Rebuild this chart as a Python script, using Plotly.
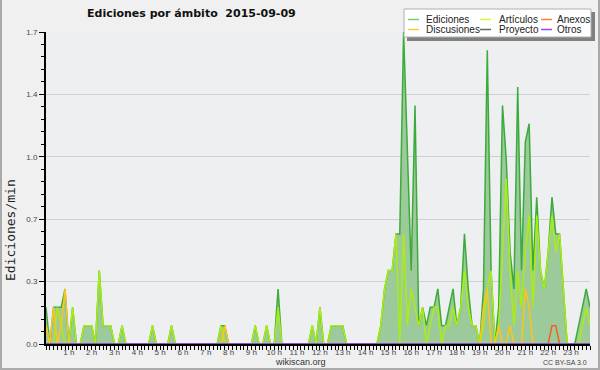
import plotly.graph_objects as go

# ---------------- data (10-minute slots, edits per minute) ----------------
slots = list(range(144))

ediciones = [
    0.2, 0, 0.2, 0.2, 0.2, 0.3,      # 0 h
    0, 0.2, 0, 0, 0.1, 0.1,          # 1 h
    0.1, 0, 0.4, 0.1, 0.1, 0.1,      # 2 h
    0, 0, 0.1, 0, 0, 0,              # 3 h
    0, 0, 0, 0, 0.1, 0,              # 4 h
    0, 0, 0, 0.1, 0, 0,              # 5 h
    0, 0, 0, 0, 0, 0,                # 6 h
    0, 0, 0, 0, 0.1, 0.1,            # 7 h
    0, 0, 0, 0, 0, 0,                # 8 h
    0, 0.1, 0, 0, 0.1, 0,            # 9 h
    0, 0.3, 0, 0, 0, 0,              # 10 h
    0, 0, 0, 0, 0.1, 0,              # 11 h
    0.2, 0, 0, 0.1, 0.1, 0.1,        # 12 h
    0.1, 0, 0, 0, 0, 0,              # 13 h
    0, 0, 0, 0, 0.1, 0.3,            # 14 h
    0.4, 0.4, 0.6, 0.6, 1.7, 1.0,    # 15 h
    0.4, 1.3, 0.1, 0.2, 0.1, 0.2,    # 16 h
    0.2, 0.3, 0.1, 0.1, 0.2, 0.3,    # 17 h
    0.1, 0.2, 0.6, 0.3, 0.1, 0.1,    # 18 h
    0, 0.3, 1.6, 0.4, 0, 0.2,        # 19 h
    1.3, 1.0, 0.5, 0.3, 1.4, 0.4,    # 20 h
    1.1, 1.2, 0.4, 0.8, 0.4, 0.3,    # 21 h
    0.5, 0.8, 0.6, 0.6, 0.3, 0,      # 22 h
    0, 0, 0.1, 0.2, 0.3, 0.2,        # 23 h
]

articulos = [
    0.1, 0, 0, 0.2, 0.1, 0,
    0, 0.2, 0, 0, 0.1, 0.1,
    0.1, 0, 0.4, 0.1, 0.1, 0.1,
    0, 0, 0.1, 0, 0, 0,
    0, 0, 0, 0, 0.1, 0,
    0, 0, 0, 0.1, 0, 0,
    0, 0, 0, 0, 0, 0,
    0, 0, 0, 0, 0.1, 0,
    0, 0, 0, 0, 0, 0,
    0, 0.1, 0, 0, 0.1, 0,
    0, 0.2, 0, 0, 0, 0,
    0, 0, 0, 0, 0.1, 0,
    0.2, 0, 0, 0.1, 0.1, 0.1,
    0.1, 0, 0, 0, 0, 0,
    0, 0, 0, 0, 0.1, 0.3,
    0.4, 0.4, 0.6, 0, 0.6, 0.1,
    0.3, 0.2, 0.1, 0.2, 0, 0.1,
    0.2, 0.2, 0, 0.1, 0.1, 0.2,
    0.1, 0.2, 0.4, 0.2, 0.1, 0.1,
    0, 0.1, 0.3, 0.4, 0, 0.1,
    0.5, 0.9, 0.4, 0.1, 0.4, 0.2,
    0.5, 0.7, 0.2, 0.7, 0.4, 0.3,
    0.5, 0.7, 0.5, 0.6, 0.3, 0,
    0, 0, 0, 0.1, 0.2, 0.1,
]

anexos = [
    0, 0, 0, 0, 0, 0,
    0, 0, 0, 0, 0, 0,
    0, 0, 0, 0, 0, 0,
    0, 0, 0, 0, 0, 0,
    0, 0, 0, 0, 0, 0,
    0, 0, 0, 0, 0, 0,
    0, 0, 0, 0, 0, 0,
    0, 0, 0, 0, 0, 0,
    0, 0, 0, 0, 0, 0,
    0, 0, 0, 0, 0, 0,
    0, 0, 0, 0, 0, 0,
    0, 0, 0, 0, 0, 0,
    0, 0, 0, 0, 0, 0,
    0, 0, 0, 0, 0, 0,
    0, 0, 0, 0, 0, 0,
    0, 0, 0, 0, 0, 0,
    0, 0, 0, 0, 0, 0,
    0, 0, 0, 0, 0, 0,
    0, 0, 0, 0, 0, 0,
    0, 0, 0, 0, 0, 0,
    0, 0, 0, 0, 0, 0,
    0, 0, 0, 0, 0, 0,
    0, 0.1, 0.1, 0, 0, 0,
    0, 0, 0, 0, 0, 0,
]

discusiones = [
    0.1, 0, 0.2, 0, 0.1, 0.3,
    0, 0, 0, 0, 0, 0,
    0, 0, 0, 0, 0, 0,
    0, 0, 0, 0, 0, 0,
    0, 0, 0, 0, 0, 0,
    0, 0, 0, 0, 0, 0,
    0, 0, 0, 0, 0, 0,
    0, 0, 0, 0, 0, 0.1,
    0, 0, 0, 0, 0, 0,
    0, 0, 0, 0, 0, 0,
    0, 0, 0, 0, 0, 0,
    0, 0, 0, 0, 0, 0,
    0, 0, 0, 0, 0, 0,
    0, 0, 0, 0, 0, 0,
    0, 0, 0, 0, 0, 0,
    0, 0, 0, 0, 0, 0,
    0, 0, 0, 0, 0, 0,
    0, 0, 0, 0, 0, 0,
    0, 0, 0, 0, 0, 0,
    0, 0.2, 0.3, 0, 0, 0.1,
    0, 0, 0.1, 0, 0, 0,
    0.3, 0.2, 0, 0, 0, 0,
    0, 0, 0, 0, 0, 0,
    0, 0, 0, 0, 0, 0,
]

proyecto = [
    0, 0, 0, 0, 0, 0,  0, 0, 0, 0, 0, 0,  0, 0, 0, 0, 0, 0,  0, 0, 0, 0, 0, 0,
    0, 0, 0, 0, 0, 0,  0, 0, 0, 0, 0, 0,  0, 0, 0, 0, 0, 0,  0, 0, 0, 0, 0, 0,
    0, 0, 0, 0, 0, 0,  0, 0, 0, 0, 0, 0,  0, 0, 0, 0, 0, 0,  0, 0, 0, 0, 0, 0,
    0, 0, 0, 0, 0, 0,  0, 0, 0, 0, 0, 0,  0, 0, 0, 0, 0, 0,  0, 0, 0, 0, 0, 0,
    0, 0, 0, 0, 0, 0,  0, 0, 0, 0, 0, 0,  0, 0, 0, 0, 0, 0,  0, 0, 0, 0, 0, 0,
    0, 0, 0, 0, 0, 0,  0, 0, 0, 0, 0, 0,  0, 0, 0, 0, 0, 0,  0, 0, 0, 0, 0, 0,
]

otros = [
    0, 0, 0, 0, 0, 0,  0, 0, 0, 0, 0, 0,  0, 0, 0, 0, 0, 0,  0, 0, 0, 0, 0, 0,
    0, 0, 0, 0, 0, 0,  0, 0, 0, 0, 0, 0,  0, 0, 0, 0, 0, 0,  0, 0, 0, 0, 0, 0,
    0, 0, 0, 0, 0, 0,  0, 0, 0, 0, 0, 0,  0, 0, 0, 0, 0, 0,  0, 0, 0, 0, 0, 0,
    0, 0, 0, 0, 0, 0,  0, 0, 0, 0, 0, 0,  0, 0, 0, 0, 0, 0,  0, 0, 0, 0, 0, 0,
    0, 0, 0, 0, 0, 0,  0, 0, 0, 0, 0, 0,  0, 0, 0, 0, 0, 0,  0, 0, 0, 0, 0, 0,
    0, 0, 0, 0, 0, 0,  0, 0, 0, 0, 0, 0,  0, 0, 0, 0, 0, 0,  0, 0, 0, 0, 0, 0,
]

hour_slots = [6, 12, 18, 24, 30, 36, 42, 48, 54, 60, 66, 72,
              78, 84, 90, 96, 102, 108, 114, 120, 126, 132, 138]
hour_labels = ["1 h", "2 h", "3 h", "4 h", "5 h", "6 h", "7 h", "8 h",
               "9 h", "10 h", "11 h", "12 h", "13 h", "14 h", "15 h",
               "16 h", "17 h", "18 h", "19 h", "20 h", "21 h", "22 h", "23 h"]

y_tickvals = [0, 0.34, 0.68, 1.02, 1.36, 1.7]
y_ticktext = ["0.0", "0.3", "0.7", "1.0", "1.4", "1.7"]

series_names = ["Ediciones", "Artículos", "Anexos", "Discusiones", "Proyecto", "Otros"]

# ---------------- styling ----------------
W, H = 600, 370
L, R, T, B = 46, 10, 32, 26
PW, PH = W - L - R, H - T - B


def px(x):
    return (x - L) / PW


def py(y):
    return (H - B - y) / PH


line_colors = {
    "Ediciones": "#3cab3c",
    "Artículos": "#aaee11",
    "Anexos": "#f06020",
    "Discusiones": "#ffc41a",
    "Proyecto": "#555555",
    "Otros": "#9944ee",
}
legend_colors = {
    "Ediciones": "#77cc77",
    "Artículos": "#ccff33",
    "Anexos": "#ff8040",
    "Discusiones": "#ffcc33",
    "Proyecto": "#666666",
    "Otros": "#9944ff",
}

fig = go.Figure()
fig.add_trace(go.Scatter(
    x=slots, y=ediciones, mode="lines", name="Ediciones",
    line=dict(color=line_colors["Ediciones"], width=1.5),
    fill="tozeroy", fillcolor="#9dca9b", hoverinfo="skip"))
for nm, vals in [("Artículos", articulos), ("Anexos", anexos),
                 ("Discusiones", discusiones), ("Proyecto", proyecto),
                 ("Otros", otros)]:
    fig.add_trace(go.Scatter(
        x=slots, y=vals, mode="lines", name=nm,
        line=dict(color=line_colors[nm], width=1.5), hoverinfo="skip"))

tickfont = dict(family="Liberation Sans, Arial, sans-serif", size=8, color="#444")

fig.update_layout(
    width=W, height=H, autosize=False,
    margin=dict(l=L, r=R, t=T, b=B, pad=0),
    paper_bgcolor="#f0f0f0", plot_bgcolor="#eeeff0",
    showlegend=False,
    xaxis=dict(
        range=[0, 143], tickmode="array", tickvals=hour_slots, ticktext=hour_labels,
        ticks="outside", ticklen=4, tickwidth=1, tickcolor="black",
        showline=True, linecolor="black", linewidth=2, mirror=False,
        showgrid=False, zeroline=False, tickfont=tickfont,
        ticklabelstandoff=-5,
        minor=dict(tickmode="linear", tick0=0, dtick=1, ticks="outside",
                   ticklen=4, tickwidth=1, tickcolor="black", showgrid=False),
    ),
    yaxis=dict(
        range=[0, 1.7], tickmode="array", tickvals=y_tickvals, ticktext=y_ticktext,
        ticks="outside", ticklen=5, tickwidth=1, tickcolor="black",
        showline=True, linecolor="black", linewidth=2,
        showgrid=True, gridcolor="#cfcfcf", gridwidth=1, zeroline=False,
        tickfont=tickfont,
        minor=dict(tickmode="linear", tick0=0, dtick=0.068, ticks="outside",
                   ticklen=3, tickwidth=1, tickcolor="black", showgrid=False),
    ),
)

annotations = [
    dict(text="<b>Ediciones por ámbito\u00a0\u00a02015-09-09</b>",
         x=px(85), y=py(13.5), xanchor="left", yanchor="middle",
         font=dict(family="DejaVu Sans", size=11, color="#111")),
    dict(text="Ediciones/min", x=px(10), y=py(230), textangle=-90,
         xanchor="center", yanchor="middle",
         font=dict(family="DejaVu Sans Mono", size=13, color="#222")),
    dict(text="wikiscan.org", x=px(300), y=py(361.5), xanchor="center", yanchor="middle",
         font=dict(family="Liberation Sans, Arial", size=9, color="#333")),
    dict(text="CC BY-SA 3.0", x=px(589), y=py(362.5), xanchor="right", yanchor="middle",
         font=dict(family="Liberation Sans, Arial", size=7, color="#444")),
]

shapes = [
    # outer frame (left, right, bottom)
    dict(type="line", xref="paper", yref="paper", x0=px(1), x1=px(1), y0=py(0), y1=py(369),
         line=dict(color="#aaaaaa", width=2)),
    dict(type="line", xref="paper", yref="paper", x0=px(599), x1=px(599), y0=py(0), y1=py(369),
         line=dict(color="#aaaaaa", width=2)),
    dict(type="line", xref="paper", yref="paper", x0=px(0), x1=px(600), y0=py(369), y1=py(369),
         line=dict(color="#aaaaaa", width=2)),
    # legend shadow + box
    dict(type="rect", xref="paper", yref="paper", layer="above",
         x0=px(407), x1=px(595), y0=py(41), y1=py(12),
         fillcolor="#808080", line=dict(width=0)),
    dict(type="rect", xref="paper", yref="paper", layer="above",
         x0=px(404), x1=px(591), y0=py(37), y1=py(9),
         fillcolor="white", line=dict(color="#b0b0b0", width=1)),
]

col_line_x = [408, 480, 541]
col_text_x = [424, 497, 555]
row_y = [19.5, 29.5]
for k, nm in enumerate(series_names):
    r, c = divmod(k, 3)
    shapes.append(dict(type="line", xref="paper", yref="paper", layer="above",
                       x0=px(col_line_x[c]), x1=px(col_line_x[c] + 11),
                       y0=py(row_y[r]), y1=py(row_y[r]),
                       line=dict(color=legend_colors[nm], width=1.5)))
    annotations.append(dict(text=nm, x=px(col_text_x[c]), y=py(row_y[r]),
                            xanchor="left", yanchor="middle", showarrow=False,
                            font=dict(family="Liberation Sans, Arial", size=10, color="#222")))

for a in annotations:
    a.setdefault("showarrow", False)
    a["xref"] = "paper"
    a["yref"] = "paper"

fig.update_layout(annotations=annotations, shapes=shapes)

fig.write_html(
    "out.html",
    config={"displayModeBar": False},
    post_script="document.body.style.margin='0';document.body.style.overflow='hidden';",
)
